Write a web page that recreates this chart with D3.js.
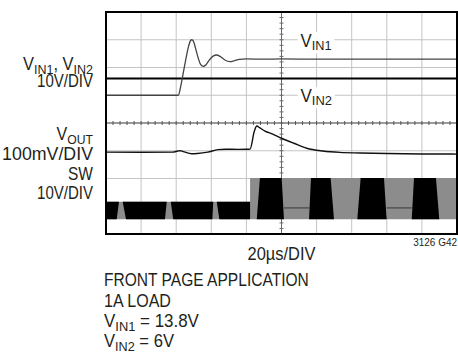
<!DOCTYPE html>
<html>
<head>
<meta charset="utf-8">
<script src="https://cdn.jsdelivr.net/npm/d3@7"></script>
<style>
  html, body { margin: 0; padding: 0; background: #fff; }
  svg { display: block; }
  text { font-family: "Liberation Sans", Arial, sans-serif; fill: #231f20; }
</style>
</head>
<body>
<svg id="chart" width="458" height="354"></svg>
<script>
// Scope settings: 10 horizontal divisions of 20µs, 8 vertical divisions
const timeDomain = [0, 200];          // µs across the screen
const divisions = 8;

// V_IN1 (V, 10V/DIV) – input steps up and rings
const vin1Time = [0, 41.2, 42.5, 44, 45.5, 47, 48, 48.8, 49.8, 51, 52.5, 54, 55.4, 57, 59, 61, 63.1, 65, 67.5, 70.7, 73, 76, 80, 90, 100, 120, 140, 160, 180, 200];
const vin1Volts = [0, 0, 3, 8, 13, 17.5, 19.5, 20, 19.5, 17, 13.5, 11, 10.4, 11, 12.8, 14.1, 14.5, 14, 12.8, 12.1, 12.4, 12.9, 13.1, 13.0, 13.1, 13.0, 13.0, 13.0, 13.0, 13.0];

// V_IN2 (V, 10V/DIV) – constant supply
const vin2Time = [0, 200];
const vin2Volts = [6, 6];

// V_OUT deviation (mV, 100mV/DIV, AC coupled)
const voutTime = [0, 20, 38, 41, 42.2, 44, 48.8, 52, 58, 63.8, 68, 75, 80.2, 82.1, 84.5, 85.9, 87.5, 90.6, 95, 100.1, 107, 114.4, 123.6, 133.3, 144.7, 160, 180, 200];
const voutMilliVolts = [-105, -105.5, -105, -101, -99.8, -103, -111, -110, -105, -96, -94.5, -95, -94.8, -94, -30, -11, -17, -29, -40, -55, -73, -91, -101, -106, -108, -110, -111.5, -112];

// SW node envelope (V, 10V/DIV): high level before and after the step
const swStepTime = 82.1;
const swHighBefore = 6.3;
const swHighAfter = 14.9;
// Dense switching segments, drawn dark: [bottom start, top start, top end, bottom end] in µs
const swDenseSegments = [
  [0, 0, 7.4, 6.1],
  [11.4, 9.5, 34.6, 33.6],
  [38.3, 36.9, 61.1, 60.6],
  [64.6, 63.1, 82.1, 82.1],
  [85.9, 87.7, 100.1, 101.4],
  [115.7, 116.8, 128.0, 129.9],
  [143.2, 145.1, 158.4, 159.9],
  [174.2, 175.5, 188.0, 189.9]
];
// Low plateau visible inside the skipped-cycle regions
const swPlateauSegments = [[101.4, 115.7], [159.9, 174.2]];
const swPlateauVolts = 4.1;

// Channel reference levels (divisions from bottom) and volts per division
const vinRefDiv = 5, vinPerDiv = 10;
const voutRefDiv = 4, voutPerDiv = 100;
const swRefDiv = 0.53, swPerDiv = 10;

const svg = d3.select("#chart");
const plot = { left: 106, right: 457, top: 12, bottom: 234 };

const x = d3.scaleLinear().domain(timeDomain).range([plot.left, plot.right]);
const yDiv = d3.scaleLinear().domain([0, divisions]).range([plot.bottom, plot.top]);
const yVin = v => yDiv(vinRefDiv + v / vinPerDiv);
const yVout = mv => yDiv(voutRefDiv + mv / voutPerDiv);
const ySw = v => yDiv(swRefDiv + v / swPerDiv);

// Graticule
const grid = svg.append("g");
const xDivs = d3.range(timeDomain[0], timeDomain[1] + 1, 20);
const yDivs = d3.range(0, divisions + 1);
grid.selectAll("line.v").data(xDivs.slice(1, -1)).join("line")
  .attr("x1", d => x(d)).attr("x2", d => x(d))
  .attr("y1", plot.top).attr("y2", plot.bottom)
  .attr("stroke", "#c4c4c4").attr("stroke-width", 1);
grid.selectAll("line.h").data(yDivs.slice(1, -1)).join("line")
  .attr("y1", d => yDiv(d)).attr("y2", d => yDiv(d))
  .attr("x1", plot.left).attr("x2", plot.right)
  .attr("stroke", "#c4c4c4").attr("stroke-width", 1);

// Centre axes with minor ticks
const cx = x(100), cy = yDiv(4);
grid.append("line").attr("x1", cx).attr("x2", cx).attr("y1", plot.top).attr("y2", plot.bottom)
  .attr("stroke", "#6a6a6a").attr("stroke-width", 1);
grid.append("line").attr("y1", cy).attr("y2", cy).attr("x1", plot.left).attr("x2", plot.right)
  .attr("stroke", "#555").attr("stroke-width", 1);
grid.selectAll("line.tx").data(d3.range(timeDomain[0], timeDomain[1], 4).slice(1)).join("line")
  .attr("x1", d => x(d)).attr("x2", d => x(d)).attr("y1", cy - 2).attr("y2", cy + 2)
  .attr("stroke", "#555").attr("stroke-width", 1);
grid.selectAll("line.ty").data(d3.range(0, divisions, 0.2).slice(1)).join("line")
  .attr("y1", d => yDiv(d)).attr("y2", d => yDiv(d)).attr("x1", cx - 2).attr("x2", cx + 2)
  .attr("stroke", "#6a6a6a").attr("stroke-width", 1);

// SW trace: switching band in grey with dense regions in black
const swHigh = t => (t < swStepTime ? swHighBefore : swHighAfter);
const band = [[0, swHighBefore], [swStepTime, swHighBefore], [swStepTime, swHighAfter], [200, swHighAfter]];
const bandPath = d3.area().x(d => x(d[0])).y0(ySw(0)).y1(d => ySw(d[1]));
svg.append("path").datum(band).attr("d", bandPath).attr("fill", "#8c8c8c");
svg.selectAll("line.plateau").data(swPlateauSegments).join("line")
  .attr("x1", d => x(d[0])).attr("x2", d => x(d[1]))
  .attr("y1", ySw(swPlateauVolts)).attr("y2", ySw(swPlateauVolts))
  .attr("stroke", "#444").attr("stroke-width", 1.2);
svg.selectAll("path.dense").data(swDenseSegments).join("path")
  .attr("fill", "#000")
  .attr("d", s => {
    const top = ySw(swHigh((s[1] + s[2]) / 2)), bot = ySw(0);
    return `M${x(s[0])},${bot}L${x(s[1])},${top}L${x(s[2])},${top}L${x(s[3])},${bot}Z`;
  });

// V_IN traces
svg.append("path")
  .attr("d", d3.line()(vin2Time.map((t, i) => [x(t), yVin(vin2Volts[i])])))
  .attr("fill", "none").attr("stroke", "#000").attr("stroke-width", 2);
svg.append("path")
  .attr("d", d3.line().curve(d3.curveMonotoneX)(vin1Time.map((t, i) => [x(t), yVin(vin1Volts[i])])))
  .attr("fill", "none").attr("stroke", "#444").attr("stroke-width", 1.3);

// V_OUT trace
svg.append("path")
  .attr("d", d3.line().curve(d3.curveMonotoneX)(voutTime.map((t, i) => [x(t), yVout(voutMilliVolts[i])])))
  .attr("fill", "none").attr("stroke", "#111").attr("stroke-width", 1.4);

// Frame
svg.append("rect").attr("x", plot.left).attr("y", plot.top)
  .attr("width", plot.right - plot.left).attr("height", plot.bottom - plot.top)
  .attr("fill", "none").attr("stroke", "#000").attr("stroke-width", 2);

// Condensed text with subscript support: parts = [[text, isSub], ...]
// The text is squeezed horizontally to the requested width.
function label(parent, xPos, yPos, parts, size, anchor, width) {
  const g = parent.append("g");
  const t = g.append("text").attr("x", 0).attr("y", 0)
    .attr("font-size", size).attr("text-anchor", anchor || "start");
  let shifted = 0;
  parts.forEach(([s, sub]) => {
    const want = sub ? 3.5 : 0;
    const ts = t.append("tspan").text(s).attr("dy", want - shifted);
    if (sub) ts.attr("font-size", size * 0.76);
    shifted = want;
  });
  const natural = t.node().getBBox().width;
  const sx = width ? width / natural : 1;
  g.attr("transform", `translate(${xPos},${yPos}) scale(${sx},1)`);
  return { g, t };
}

// In-plot channel names with white backing
const inner = svg.append("g");
function innerLabel(xPos, yPos, parts, width) {
  const { g, t } = label(inner, xPos, yPos, parts, 18, "start", width);
  const b = t.node().getBBox();
  g.insert("rect", "text").attr("x", b.x - 3).attr("y", b.y + 2)
    .attr("width", b.width + 6).attr("height", b.height - 2).attr("fill", "#fff");
}
innerLabel(300.5, 46.7, [["V", false], ["IN1", true]], 31);
innerLabel(300.5, 101.7, [["V", false], ["IN2", true]], 31.5);

// Channel scale labels on the left
const left = svg.append("g");
label(left, 93, 70, [["V", false], ["IN1", true], [", V", false], ["IN2", true]], 18, "end", 70);
label(left, 93, 87.3, [["10V/DIV", false]], 18, "end", 56);
label(left, 93, 140, [["V", false], ["OUT", true]], 18, "end", 37);
label(left, 93, 160, [["100mV/DIV", false]], 18, "end", 91);
label(left, 93, 180, [["SW", false]], 18, "end", 25);
label(left, 93, 199.3, [["10V/DIV", false]], 18, "end", 56);

// Time base and figure id
label(svg, x(100), 260, [["20µs/DIV", false]], 18, "middle", 68);
label(svg, 457, 246, [["3126 G42", false]], 10.5, "end", 44);

// Test conditions
const notes = svg.append("g");
label(notes, 104, 286, [["FRONT PAGE APPLICATION", false]], 18, "start", 205);
label(notes, 104, 306.7, [["1A LOAD", false]], 18, "start", 67);
label(notes, 104, 327.3, [["V", false], ["IN1", true], [" = 13.8V", false]], 18, "start", 95);
label(notes, 104, 347.3, [["V", false], ["IN2", true], [" = 6V", false]], 18, "start", 70);
</script>
</body>
</html>
